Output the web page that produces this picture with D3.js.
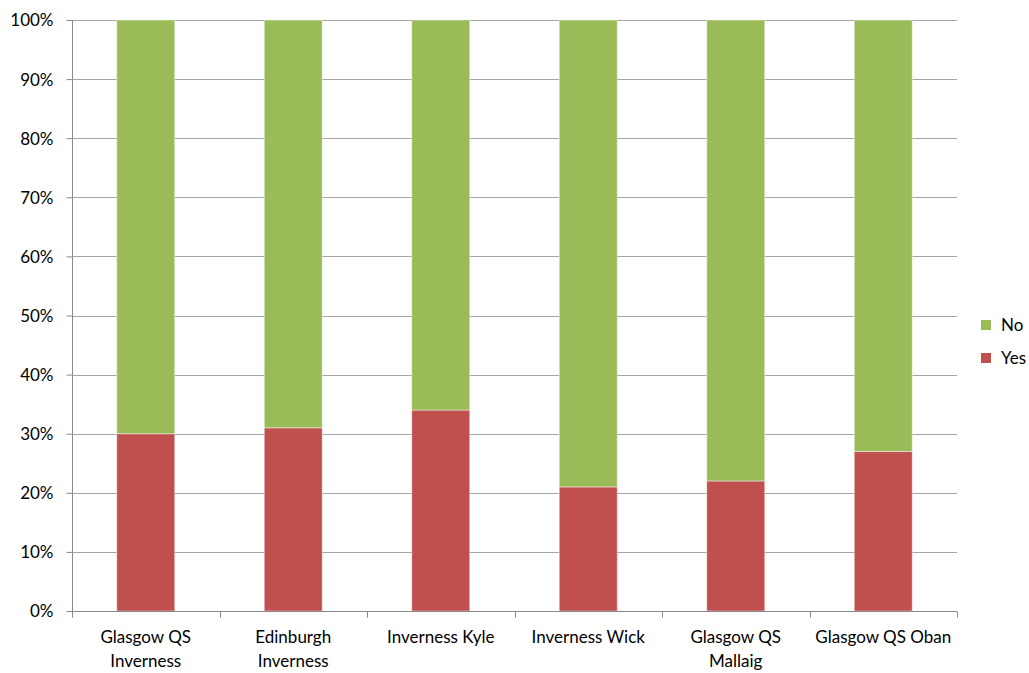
<!DOCTYPE html>
<html>
<head>
<meta charset="utf-8">
<script src="https://cdn.jsdelivr.net/npm/d3@7"></script>
<style>
  body { margin: 0; background: #fff; }
  text { font-family: Lato, "Open Sans", sans-serif; fill: #000; }
</style>
</head>
<body>
<svg id="chart" width="1029" height="673"></svg>
<script>
// Routes and share of answers (percent)
const categories = [
  ["Glasgow QS", "Inverness"],
  ["Edinburgh", "Inverness"],
  ["Inverness Kyle"],
  ["Inverness Wick"],
  ["Glasgow QS", "Mallaig"],
  ["Glasgow QS Oban"]
];
const yesValues = [30, 31, 34, 21, 22, 27];
const noValues = [70, 69, 66, 79, 78, 73];
const yTicks = [0, 10, 20, 30, 40, 50, 60, 70, 80, 90, 100];
const seriesNames = ["Yes", "No"];
const colors = { Yes: "#C0504D", No: "#9BBB59" };

const svg = d3.select("#chart");
const plot = { left: 72, right: 957, top: 20, bottom: 611 };
const fontSize = "17px";

const x = d3.scaleBand()
  .domain(d3.range(categories.length))
  .range([plot.left, plot.right])
  .paddingInner(0).paddingOuter(0);
const y = d3.scaleLinear().domain([0, 100]).range([plot.bottom, plot.top]);

// Gridlines
svg.append("g").selectAll("line").data(yTicks.filter(d => d > 0)).join("line")
  .attr("x1", plot.left).attr("x2", plot.right)
  .attr("y1", d => Math.round(y(d)) + 0.5).attr("y2", d => Math.round(y(d)) + 0.5)
  .attr("stroke", "#a6a6a6").attr("stroke-width", 1);

// Stacked data
const rows = categories.map((c, i) => ({ i, Yes: yesValues[i], No: noValues[i] }));
const stack = d3.stack().keys(seriesNames)(rows);

const barW = 58;
svg.append("g").selectAll("g").data(stack).join("g")
  .attr("fill", s => colors[s.key])
  .selectAll("rect").data(s => s).join("rect")
  .attr("x", d => x(d.data.i) + x.bandwidth() / 2 - barW / 2)
  .attr("width", barW)
  .attr("y", d => y(d[1]))
  .attr("height", d => y(d[0]) - y(d[1]))
  .attr("stroke", "rgba(255,255,255,0.45)")
  .attr("stroke-width", 1);

// Y axis
const yAxis = svg.append("g").attr("transform", `translate(${plot.left + 0.5},0)`)
  .call(d3.axisLeft(y).tickValues(yTicks).tickFormat(d => d + "%").tickSize(6).tickPadding(13));
yAxis.select(".domain").attr("stroke", "#888").attr("d", `M-0,${plot.top}V${plot.bottom}`);
yAxis.selectAll(".tick line").attr("stroke", "#888");
yAxis.selectAll(".tick text").style("font-size", fontSize).attr("fill", "#000")
  .attr("dy", "0.35em");

// X axis
const xAxis = svg.append("g").attr("transform", `translate(0,${plot.bottom + 0.5})`);
xAxis.append("line").attr("x1", plot.left).attr("x2", plot.right)
  .attr("stroke", "#888");
const edges = d3.range(categories.length + 1).map(i => plot.left + i * x.bandwidth());
xAxis.selectAll("line.tk").data(edges).join("line").attr("class", "tk")
  .attr("x1", d => Math.round(d) + 0.5).attr("x2", d => Math.round(d) + 0.5)
  .attr("y1", 0).attr("y2", 6).attr("stroke", "#888");
const labels = xAxis.selectAll("text").data(categories).join("text")
  .attr("text-anchor", "middle")
  .attr("x", (d, i) => x(i) + x.bandwidth() / 2)
  .attr("y", 31)
  .style("font-size", fontSize);
labels.selectAll("tspan").data(d => d).join("tspan")
  .attr("x", function() { return this.parentNode.getAttribute("x"); })
  .attr("dy", (d, i) => i === 0 ? 0 : 24)
  .text(d => d);

// Legend
const legend = svg.append("g");
const legendItems = ["No", "Yes"];
legendItems.forEach((k, i) => {
  const ly = 325 + i * 33;
  legend.append("rect").attr("x", 981).attr("y", ly - 5).attr("width", 10).attr("height", 10)
    .attr("fill", colors[k]);
  legend.append("text").attr("x", 1001).attr("y", ly).attr("dy", "0.35em")
    .style("font-size", fontSize).text(k);
});
</script>
</body>
</html>
